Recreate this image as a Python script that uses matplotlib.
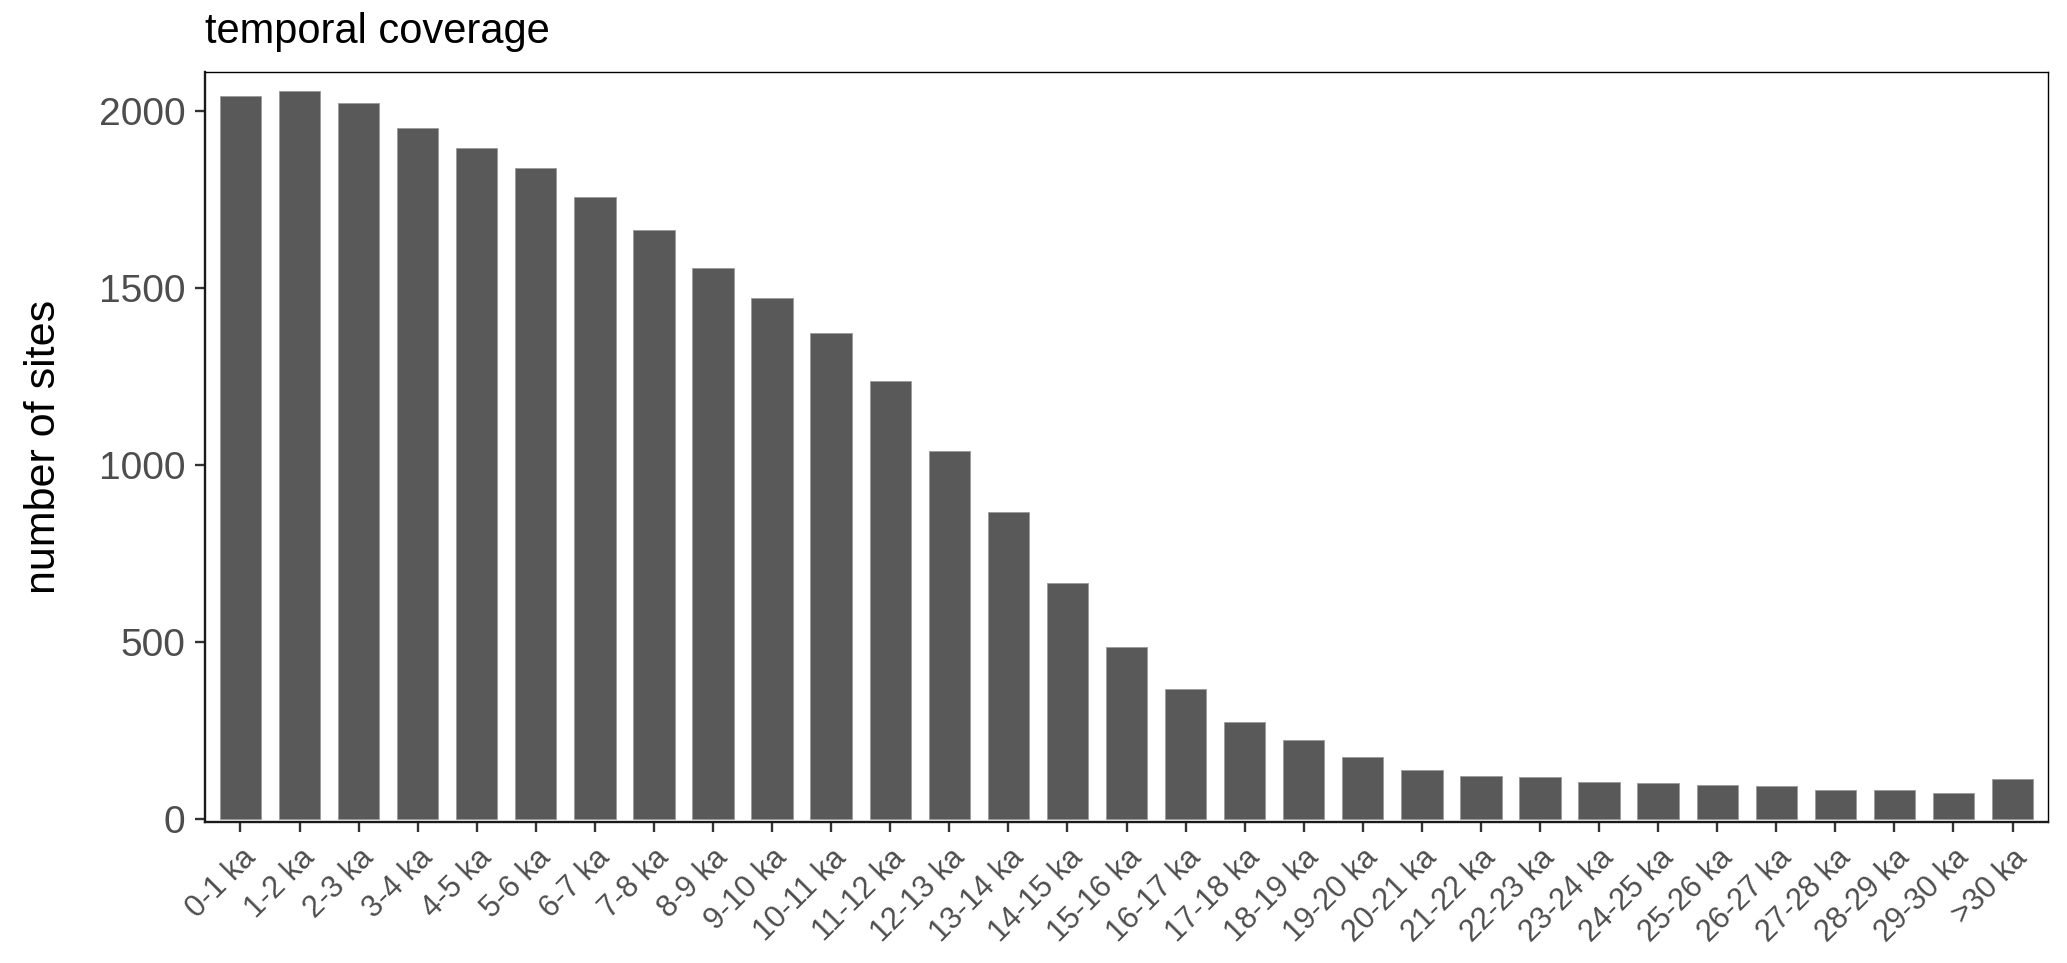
import matplotlib
matplotlib.use("Agg")
from matplotlib import pyplot as plt
import numpy as np

plt.rcParams['font.family'] = ['Liberation Sans', 'DejaVu Sans']

# time bins and number of sites per bin
age_bins = ["0-1 ka", "1-2 ka", "2-3 ka", "3-4 ka", "4-5 ka", "5-6 ka", "6-7 ka",
            "7-8 ka", "8-9 ka", "9-10 ka", "10-11 ka", "11-12 ka", "12-13 ka",
            "13-14 ka", "14-15 ka", "15-16 ka", "16-17 ka", "17-18 ka", "18-19 ka",
            "19-20 ka", "20-21 ka", "21-22 ka", "22-23 ka", "23-24 ka", "24-25 ka",
            "25-26 ka", "26-27 ka", "27-28 ka", "28-29 ka", "29-30 ka", ">30 ka"]
n_sites = [2040, 2056, 2021, 1951, 1895, 1839, 1756, 1662, 1556, 1470, 1372,
           1236, 1039, 867, 666, 486, 366, 274, 222, 176, 137, 121, 118, 105,
           102, 97, 94, 83, 83, 74, 112]

W, H = 2067, 963
fig = plt.figure(figsize=(W / 100, H / 100), dpi=100)
ax = fig.add_axes([205 / W, 1 - 822 / H, (2048 - 205) / W, (822 - 72) / H])

x = np.arange(len(age_bins))
ax.bar(x, n_sites, width=0.7, color='#595959', edgecolor='#9a9a9a', linewidth=0.6)

ax.set_xlim(-0.6, len(age_bins) - 0.4)
ax.set_ylim(-8.5, 2109)
ax.set_yticks([0, 500, 1000, 1500, 2000])
ax.set_xticks(x)
ax.set_xticklabels(age_bins, rotation=45, ha='right', va='top', rotation_mode='anchor')

ax.tick_params(axis='both', length=7.2, width=1.7, color='#333333', colors='#4d4d4d')
ax.tick_params(axis='y', labelsize=28, pad=7)
ax.tick_params(axis='x', labelsize=22, pad=8)

for side in ['top', 'right']:
    ax.spines[side].set_linewidth(1.0)
    ax.spines[side].set_color('black')
for side in ['left', 'bottom']:
    ax.spines[side].set_linewidth(1.7)
    ax.spines[side].set_color('#1a1a1a')

ax.set_ylabel("number of sites", fontsize=31, color='black', labelpad=25)
ax.set_title("temporal coverage", loc='left', fontsize=30, color='black', pad=21)

fig.savefig("out.png", dpi=100)
